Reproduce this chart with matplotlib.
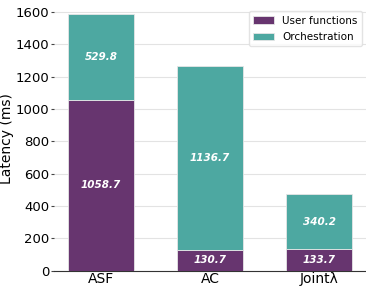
import matplotlib
matplotlib.use('Agg')
import matplotlib.pyplot as plt

systems = ['ASF', 'AC', 'Jointλ']
user_fn = [1058.7, 130.7, 133.7]
orchestration = [529.8, 1136.7, 340.2]

purple = '#67356f'
teal = '#4da8a1'

fig, ax = plt.subplots(figsize=(3.66, 2.89), dpi=100)
x = range(len(systems))
ax.bar(x, user_fn, width=0.6, color=purple, edgecolor='#e6e6e6', linewidth=0.6,
       label='User functions', zorder=3)
ax.bar(x, orchestration, width=0.6, bottom=user_fn, color=teal, edgecolor='#e6e6e6',
       linewidth=0.6, label='Orchestration', zorder=3)

for i in x:
    ax.text(i, user_fn[i] / 2, '{:.1f}'.format(user_fn[i]), ha='center', va='center',
            color='white', fontsize=7.5, fontweight='bold', fontstyle='italic', zorder=4)
    ax.text(i, user_fn[i] + orchestration[i] / 2, '{:.1f}'.format(orchestration[i]),
            ha='center', va='center', color='white', fontsize=7.5, fontweight='bold',
            fontstyle='italic', zorder=4)

ax.set_xticks(list(x))
ax.set_xticklabels(systems, fontsize=10)
ax.tick_params(axis='y', labelsize=9.5, length=2.5, color='#444444', pad=1)
ax.tick_params(axis='x', length=0, pad=1)
ax.set_ylabel('Latency (ms)', fontsize=10, labelpad=1)
ax.set_ylim(0, 1630)
ax.set_yticks(range(0, 1601, 200))
ax.grid(axis='y', color='#e3e3e3', linewidth=0.8, zorder=0)
for s in ['top', 'right', 'left']:
    ax.spines[s].set_visible(False)
ax.spines['bottom'].set_color('#333333')
ax.legend(loc='upper right', fontsize=7.5, frameon=True, edgecolor='#dddddd',
          handlelength=2, borderaxespad=0.4, labelspacing=0.6)

plt.subplots_adjust(left=0.148, right=1.0, top=0.975, bottom=0.063)
plt.savefig('out.png', dpi=100)
